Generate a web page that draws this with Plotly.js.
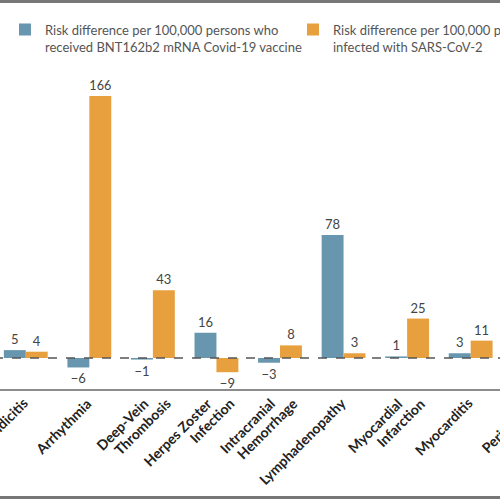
<!DOCTYPE html>
<html>
<head>
<meta charset="utf-8">
<script src="https://cdn.plot.ly/plotly-3.0.1.min.js"></script>
<style>
html,body{margin:0;padding:0;width:500px;height:500px;overflow:hidden;background:#fff;}
#chart{position:absolute;left:-26px;top:0;width:700px;height:500px;}
</style>
</head>
<body>
<div id="chart"></div>
<script>
var categories = ["Appendicitis","Arrhythmia","Deep-Vein<br>Thrombosis","Herpes Zoster<br>Infection","Intracranial<br>Hemorrhage","Lymphadenopathy","Myocardial<br>Infarction","Myocarditis","Pericarditis"];
var vaccineValues = [5, -6, -1, 16, -3, 78, 1, 3, 1];
var infectionValues = [4, 166, 43, -9, 8, 3, 25, 11, 11];
var seriesNames = ["Risk difference per 100,000 persons who<br>received BNT162b2 mRNA Covid-19 vaccine",
                   "Risk difference per 100,000 persons<br>infected with SARS-CoV-2"];

function fmt(v){ return v < 0 ? "\u2212" + Math.abs(v) : String(v); }
var valueFont = {family:"Lato, 'Open Sans', sans-serif", size:13, color:"#444"};
var traces = [
  {type:"bar", name:seriesNames[0], x:categories, y:vaccineValues,
   marker:{color:"#6896ae"}, text:vaccineValues.map(fmt),
   textposition:"outside", textfont:valueFont, cliponaxis:false, hoverinfo:"none"},
  {type:"bar", name:seriesNames[1], x:categories, y:infectionValues,
   marker:{color:"#e8a03e"}, text:infectionValues.map(fmt),
   textposition:"outside", textfont:valueFont, cliponaxis:false, hoverinfo:"none"}
];

// category labels, drawn line by line, rotated like the original
var labelFont = {family:"Lato, 'Open Sans', sans-serif", size:14, color:"#222", weight:700};
var annotations = [];
categories.forEach(function(c, i){
  var lines = c.split("<br>");
  lines.forEach(function(t, j){
    var shift = lines.length === 1 ? 8 : (j === 0 ? 1 : 24);
    annotations.push({xref:"x", yref:"paper", x:c, y:-0.0097, text:t, showarrow:false,
      textangle:-45, xanchor:"right", yanchor:"top", xshift:shift, font:labelFont});
  });
});

var layout = {
  width:700, height:500,
  margin:{l:20, r:108, t:80, b:111},
  paper_bgcolor:"#fff", plot_bgcolor:"#fff",
  barmode:"group", bargap:0.31, bargroupgap:0,
  showlegend:true,
  legend:{orientation:"h", x:0.0192, xanchor:"left", y:1.2115, yanchor:"top",
          valign:"top", entrywidth:243, entrywidthmode:"pixels",
          font:{family:"Lato, 'Open Sans', sans-serif", size:13, color:"#555"}},
  xaxis:{type:"category", range:[-0.5, 8.5], showticklabels:false, showline:true, linecolor:"#8c8c8c", linewidth:2,
         ticks:"", showgrid:false, zeroline:false},
  yaxis:{range:[-19.65, 176.2], visible:false, showgrid:false, zeroline:false},
  annotations:annotations,
  shapes:[
    {type:"line", xref:"paper", yref:"y", x0:0, x1:1, y0:0, y1:0, layer:"above",
     line:{color:"#555", width:1.5, dash:"dash"}},
    {type:"line", xref:"paper", yref:"paper", x0:-0.1, x1:1.1, y0:1.2540, y1:1.2540,
     line:{color:"#777", width:3}},
    {type:"line", xref:"paper", yref:"paper", x0:-0.1, x1:1.1, y0:-0.3512, y1:-0.3512,
     line:{color:"#777", width:3}}
  ]
};
Plotly.newPlot("chart", traces, layout, {displayModeBar:false, staticPlot:true});
</script>
</body>
</html>
